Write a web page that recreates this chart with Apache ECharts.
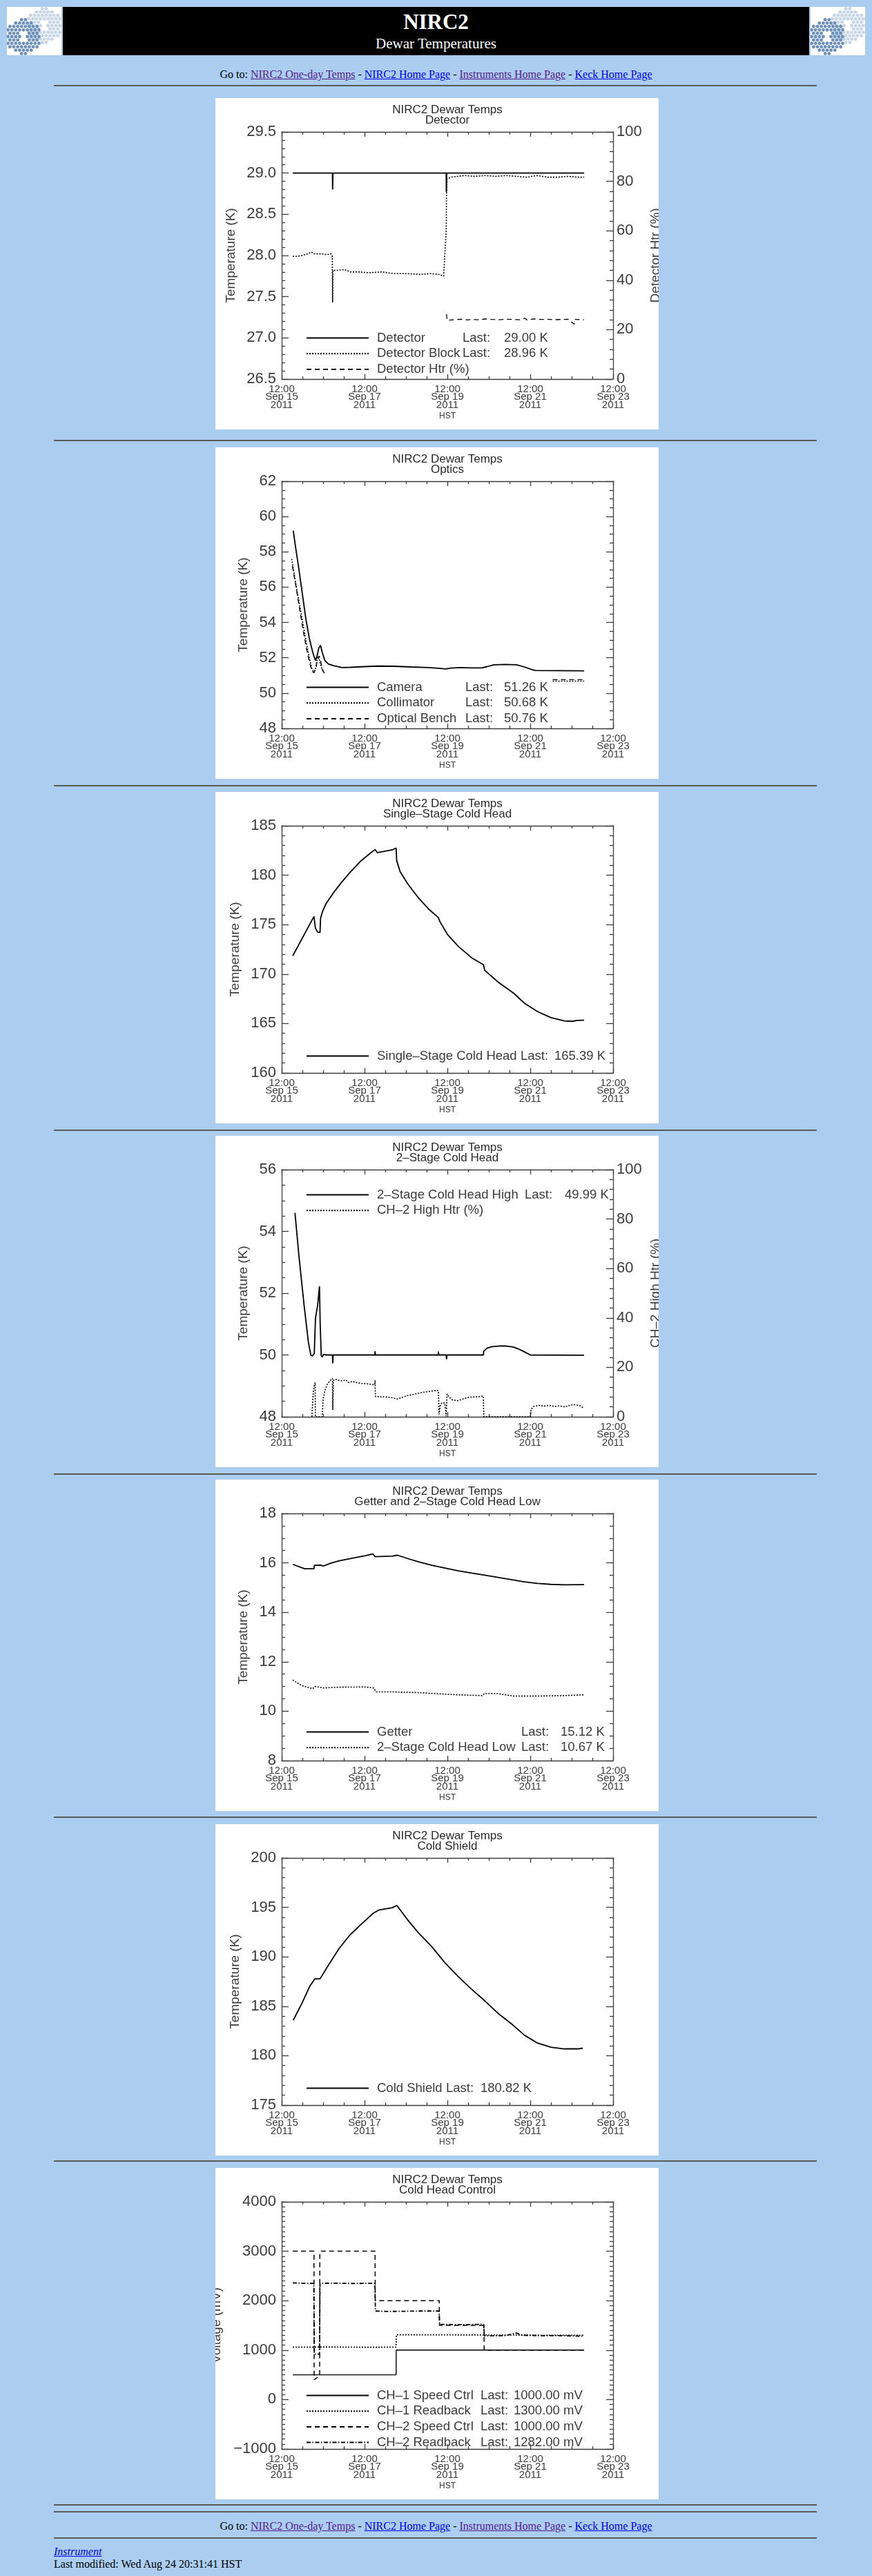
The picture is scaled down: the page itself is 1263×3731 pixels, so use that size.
<!DOCTYPE html>
<html>
<head>
<meta charset="utf-8">
<title>NIRC2 Dewar Temperatures</title>
<script src="https://cdn.jsdelivr.net/npm/echarts@6.0.0/dist/echarts.min.js"></script>
<style>
  body { margin: 0; background: #abcdef; font-family: "Liberation Serif", "Times New Roman", serif; }
  #page { position: relative; width: 1263px; height: 3731px; overflow: hidden; }
  .abs { position: absolute; }
  .hr { position: absolute; left: 78px; width: 1105px; height: 0; border-top: 2px solid #5a5a5a; }
  .logo { position: absolute; top: 10px; width: 79px; height: 70px; background: #fff; }
  .band { position: absolute; top: 10px; left: 91px; width: 1081px; height: 70px; background: #000; color: #fff; text-align: center; }
  .goto { position: absolute; left: 0; width: 1263px; text-align: center; font-size: 16px; line-height: 18px; color: #000; }
  a { text-decoration: underline; }
  a.v { color: #551a8b; }
  a.n { color: #0000ee; }
  .chart { position: absolute; left: 312px; width: 642px; height: 480px; background: #fff; }
</style>
</head>
<body>
<div id="page">
  <div class="logo" style="left:10px"><svg class="hex" width="79" height="70"></svg></div>
  <div class="band">
    <div style="position:absolute;left:0;width:1081px;top:4px;font-size:31px;font-weight:bold;line-height:36px">NIRC2</div>
    <div style="position:absolute;left:0;width:1081px;top:40px;font-size:21px;line-height:26px">Dewar Temperatures</div>
  </div>
  <div class="logo" style="left:1174px"><svg class="hex" width="79" height="70"></svg></div>

  <div class="goto" style="top:99px">Go to: <a class="v" href="#">NIRC2 One-day Temps</a> - <a class="n" href="#">NIRC2 Home Page</a> - <a class="v" href="#">Instruments Home Page</a> - <a class="n" href="#">Keck Home Page</a></div>
  <div class="hr" style="top:123px"></div>

  <div class="chart" id="c1" style="top:142px"></div>
  <div class="hr" style="top:637px"></div>
  <div class="chart" id="c2" style="top:648px"></div>
  <div class="hr" style="top:1137px"></div>
  <div class="chart" id="c3" style="top:1147px"></div>
  <div class="hr" style="top:1636px"></div>
  <div class="chart" id="c4" style="top:1645px"></div>
  <div class="hr" style="top:2134px"></div>
  <div class="chart" id="c5" style="top:2143px"></div>
  <div class="hr" style="top:2631px"></div>
  <div class="chart" id="c6" style="top:2642px"></div>
  <div class="hr" style="top:3129px"></div>
  <div class="chart" id="c7" style="top:3140px"></div>

  <div class="hr" style="top:3627px"></div>
  <div class="hr" style="top:3637px"></div>
  <div class="goto" style="top:3650px">Go to: <a class="v" href="#">NIRC2 One-day Temps</a> - <a class="n" href="#">NIRC2 Home Page</a> - <a class="v" href="#">Instruments Home Page</a> - <a class="n" href="#">Keck Home Page</a></div>
  <div class="hr" style="top:3675px"></div>
  <div class="abs" style="left:78px;top:3687px;font-size:16px;line-height:18px"><a class="n" href="#"><i>Instrument</i></a></div>
  <div class="abs" style="left:78px;top:3705px;font-size:16px;line-height:18px">Last modified: Wed Aug 24 20:31:41 HST</div>
</div>

<script>
// x values are hours after 12:00 Sep 15 2011 (HST)
const xTickLabels = ['12:00\nSep 15\n2011', '12:00\nSep 17\n2011', '12:00\nSep 19\n2011', '12:00\nSep 21\n2011', '12:00\nSep 23\n2011'];

// Detector
const detector = [[6.4, 29.00], [29.4, 29.00], [29.5, 28.80], [29.7, 29.00], [95.3, 29.00], [95.4, 28.77], [95.6, 29.00], [175.2, 29.00]];
const detectorBlock = [[6.4, 27.99], [9, 27.99], [12, 28.00], [15, 28.02], [17, 28.04], [19, 28.02], [23, 28.02], [26, 28.01], [28.6, 28.02], [29.3, 27.99],
  [29.5, 27.43], [29.7, 27.82], [33, 27.82], [36, 27.83], [40, 27.80], [45, 27.80], [50, 27.79], [58, 27.80], [65, 27.78], [72, 27.78], [80, 27.77],
  [86, 27.78], [91, 27.77], [93.8, 27.75], [94.6, 27.74], [95.3, 28.30], [95.5, 28.72], [95.8, 28.93], [98, 28.95], [102, 28.96], [106, 28.97],
  [112, 28.96], [118, 28.97], [124, 28.96], [130, 28.97], [136, 28.96], [142, 28.95], [148, 28.97], [154, 28.95], [160, 28.95], [166, 28.96], [172, 28.95], [175.2, 28.95]];
const detectorHtr = [[95.5, 26.3], [95.8, 23.8], [100, 24.0], [104, 24.2], [108, 23.9], [110, 24.1], [114, 24.0], [118, 24.3], [122, 24.1], [126, 24.0],
  [130, 24.2], [134, 24.1], [138, 24.0], [141, 24.6], [142, 23.9], [146, 24.3], [150, 24.1], [154, 24.2], [158, 24.0], [162, 24.1], [166, 24.2],
  [169.5, 22.2], [170, 24.1], [175.2, 24.0]];
const detectorLast = ['29.00 K', '28.96 K', ''];

// Optics
const camera = [[6.7, 59.2], [8, 58.3], [10, 57.0], [12, 55.6], [14, 54.2], [16, 53.1], [18, 52.3], [19.5, 51.85], [20.5, 52.1], [21.5, 52.55],
  [22.5, 52.7], [23.5, 52.3], [25, 51.85], [27, 51.65], [30, 51.55], [35, 51.45], [40, 51.46], [48, 51.5], [55, 51.53], [65, 51.52], [75, 51.48],
  [85, 51.45], [92, 51.4], [95, 51.37], [98, 51.42], [103, 51.45], [110, 51.43], [116, 51.43], [119, 51.5], [123, 51.6], [130, 51.62], [136, 51.6],
  [140, 51.5], [145, 51.33], [147, 51.28], [160, 51.27], [175.2, 51.26]];
const collimator = [[5.8, 57.6], [8, 56.3], [10, 55.2], [12, 54.1], [14, 53.0], [16, 52.0], [17.5, 51.4], [18.5, 51.2], [19.5, 51.3], [20.5, 51.9],
  [21.5, 52.0], [22.5, 51.6], [23.5, 51.3], [24.3, 51.2], [90, null], [157, 50.68], [175.2, 50.68]];
const opticalBench = [[6.2, 57.2], [8, 56.2], [10, 55.0], [12, 53.8], [14, 52.7], [16, 51.8], [17.5, 51.25], [18.7, 51.15], [19.8, 51.4], [20.8, 52.0],
  [21.8, 52.1], [22.8, 51.7], [23.8, 51.3], [24.8, 51.1], [90, null], [157, 50.76], [175.2, 50.76]];
const opticsLast = ['51.26 K', '50.68 K', '50.76 K'];

// Single-stage cold head
const singleStage = [[6.4, 171.84], [18.7, 175.83], [19.5, 174.67], [20.7, 174.25], [22.2, 174.2], [22.5, 175.6], [23.6, 176.3], [25.6, 177.1],
  [30.2, 178.27], [34.8, 179.3], [39.4, 180.24], [45.6, 181.4], [51.7, 182.28], [54.1, 182.6], [55.5, 182.28], [64, 182.56], [66.3, 182.75],
  [66.6, 181.5], [68.6, 180.36], [73.2, 179.08], [79.3, 177.69], [85.4, 176.53], [90.8, 175.7], [91.6, 175.32], [96.2, 173.97], [102.3, 172.81],
  [110, 171.65], [116.9, 170.95], [117.6, 170.38], [125.3, 169.2], [134.5, 168.05], [140.6, 167.06], [148.3, 166.2], [156, 165.6], [163.7, 165.27],
  [168.2, 165.22], [171.3, 165.32], [175.2, 165.34]];
const singleStageLast = ['165.39 K'];

// 2-stage cold head
const coldHead2High = [[7.7, 54.6], [10, 53.2], [13, 51.6], [15.5, 50.4], [16.9, 49.99], [17.9, 49.97], [18.9, 50.05], [19.2, 50.6], [19.6, 51.2],
  [20.8, 51.6], [21.9, 52.22], [22.3, 51.0], [22.9, 49.99], [23.5, 49.93], [24.2, 50.02], [26, 50.0], [29.4, 50.0], [29.6, 49.73], [29.8, 50.0],
  [54, 50.0], [54.1, 50.12], [54.3, 50.0], [90.7, 50.0], [90.8, 50.11], [91, 50.0], [95.3, 50.0], [95.5, 49.86], [95.8, 50.0], [116.9, 50.0],
  [117, 50.12], [119, 50.22], [122, 50.27], [126, 50.29], [130, 50.29], [134, 50.26], [137, 50.2], [140, 50.12], [143, 50.03], [144, 50.0], [175.2, 49.99]];
const ch2HighHtr = [[17.5, 0], [18.2, 9], [18.8, 12.5], [19.4, 13.8], [19.5, 0], [23.5, 0], [24.0, 7], [25, 10.5], [26.5, 13.2], [28, 14.6], [29.4, 15.5],
  [29.6, 2.8], [29.9, 14.6], [31, 15.2], [33, 14.8], [35, 14.5], [37, 14.9], [39, 13.8], [41, 14.3], [43, 13.9], [46, 13.5], [49, 13.4], [52, 13.1],
  [53.8, 12.9], [54.1, 14.7], [54.3, 8.2], [57, 8.1], [61, 8.0], [64, 7.7], [67, 7.2], [70, 7.9], [73, 8.6], [76, 9.0], [79, 9.5], [82, 9.9], [85, 10.2],
  [88, 10.5], [90.8, 10.6], [91.2, 1.0], [92, 5.0], [93, 5.7], [94.5, 5.5], [95.3, 0.2], [95.8, 9.2], [97, 8.0], [99, 6.8], [102, 6.5], [105, 7.2],
  [108, 7.8], [111, 8.0], [114, 8.1], [116.8, 8.4], [117.1, 0], [144, 0], [144.5, 3.0], [146, 4.2], [149, 4.6], [152, 4.3], [155, 4.6], [158, 4.2],
  [161, 4.4], [164, 4.0], [167, 4.7], [170, 4.9], [173, 4.4], [175.2, 3.4]];
const coldHead2Last = ['49.99 K', ''];

// Getter and 2-stage cold head low
const getter = [[6.4, 15.94], [13.3, 15.76], [18.7, 15.76], [19, 15.9], [22.5, 15.91], [24, 15.87], [28.7, 15.99], [33.3, 16.08], [40.9, 16.19],
  [48.6, 16.29], [52.9, 16.36], [54.1, 16.25], [64, 16.27], [67, 16.31], [73.2, 16.17], [79.3, 16.04], [87, 15.9], [94.6, 15.79], [102.3, 15.68],
  [110, 15.59], [116.9, 15.51], [125.3, 15.41], [133, 15.32], [140.6, 15.23], [148.3, 15.17], [156, 15.13], [163.7, 15.11], [175.2, 15.12]];
const coldHead2Low = [[6.4, 11.26], [11.8, 11.03], [17.9, 10.91], [19.4, 11.0], [24.1, 10.94], [33.3, 10.97], [48.6, 10.98], [53.2, 10.94],
  [54.8, 10.78], [64, 10.78], [79.3, 10.75], [94.6, 10.69], [102.3, 10.66], [116, 10.63], [117.6, 10.72], [125.3, 10.71], [134.5, 10.61],
  [148.3, 10.61], [163.7, 10.63], [175.2, 10.66]];
const getterLast = ['15.12 K', '10.67 K'];

// Cold shield
const coldShield = [[6.7, 183.59], [11.8, 185.33], [16.4, 187.07], [19.2, 187.77], [22.2, 187.77], [27.1, 189.16], [33.3, 190.85], [39.4, 192.18],
  [45.6, 193.22], [53.2, 194.43], [56.3, 194.73], [64, 194.96], [66.7, 195.2], [73.2, 193.69], [79.3, 192.41], [87, 191.02], [94.6, 189.39],
  [102.3, 188.0], [110, 186.72], [117.6, 185.56], [125.3, 184.29], [133, 183.24], [140.6, 182.08], [148.3, 181.27], [156, 180.85], [163.7, 180.69],
  [171.3, 180.69], [174.4, 180.76]];
const coldShieldLast = ['180.82 K'];

// Cold head control (mV)
const ch1SpeedCtrl = [[6.4, 500], [66.3, 500], [66.35, 1000], [175.2, 1000]];
const ch1Readback = [[6.4, 1060], [30, 1062], [50, 1058], [66.2, 1060], [66.5, 1310], [90, 1308], [120, 1305], [150, 1302], [175.2, 1300]];
const ch2SpeedCtrl = [[6.4, 3000], [18.7, 3000], [18.8, 400], [22.0, 480], [22.1, 2950], [22.4, 3000], [54.1, 3000], [54.2, 2000], [91.3, 2000],
  [91.4, 1500], [117.2, 1500], [117.3, 1000], [175.2, 1000]];
const ch2Readback = [[6.4, 2360], [12, 2352], [18.6, 2350], [18.9, 920], [21.9, 920], [22.2, 2350], [30, 2355], [40, 2348], [54, 2350], [54.3, 1790],
  [62, 1782], [70, 1785], [80, 1790], [91.2, 1790], [91.5, 1520], [104, 1515], [117.1, 1520], [117.4, 1290], [125, 1288], [130, 1295], [134, 1330],
  [136, 1345], [138, 1320], [140, 1300], [150, 1290], [160, 1292], [168, 1285], [175.2, 1282]];
const coldHeadCtrlLast = ['1000.00 mV', '1300.00 mV', '1000.00 mV', '1282.00 mV'];

const FONT = '"Liberation Sans", Arial, sans-serif';
const INK = '#3c3c3c';
const DOTTED = [2, 2];
const DASHED = [7, 5];
const DASHDOT = [6, 2.5, 1.5, 2.5];

function line(name, data, width, type, yAxisIndex) {
  return {
    name: name, type: 'line', data: data, yAxisIndex: yAxisIndex || 0,
    symbol: 'none', showSymbol: false, animation: false, connectNulls: false,
    lineStyle: { color: '#000', width: width, type: type || 'solid' },
    itemStyle: { color: '#000' }
  };
}

function buildOption(c) {
  const lineSt = { color: INK, width: 1.3 };
  const xBase = {
    type: 'value', min: 0, max: 192, interval: 48,
    axisLine: { show: true, onZero: false, lineStyle: lineSt },
    axisTick: { show: true, inside: true, length: 7, lineStyle: lineSt },
    minorTick: { show: true, splitNumber: 4, length: 4, lineStyle: lineSt },
    splitLine: { show: false }, minorSplitLine: { show: false }
  };
  const xAxis = [
    Object.assign({}, xBase, {
      position: 'bottom',
      axisLabel: { show: true, margin: 9, fontSize: 15, lineHeight: 11.5, color: INK, fontFamily: FONT,
        showMinLabel: true, showMaxLabel: true, formatter: v => xTickLabels[Math.round(v / 48)] },
      name: 'HST', nameLocation: 'middle', nameGap: 48, nameMoveOverlap: false,
      nameTextStyle: { fontSize: 12, color: INK, fontFamily: FONT }
    }),
    Object.assign({}, xBase, { position: 'top', axisLabel: { show: false } })
  ];
  const yBase = (a) => ({
    type: 'value', min: a.min, max: a.max, interval: a.interval,
    axisLine: { show: true, onZero: false, lineStyle: lineSt },
    axisTick: { show: true, inside: true, length: 10, lineStyle: lineSt },
    minorTick: { show: true, splitNumber: a.minor, length: 5, lineStyle: lineSt },
    splitLine: { show: false }, minorSplitLine: { show: false }
  });
  const left = Object.assign(yBase(c.y), {
    position: 'left',
    axisLabel: { margin: 8, fontSize: 22, color: INK, fontFamily: FONT, showMinLabel: true, showMaxLabel: true, formatter: c.y.fmt },
    name: c.y.name, nameLocation: 'middle', nameRotate: 90, nameGap: c.y.gap, nameMoveOverlap: false,
    nameTextStyle: { fontSize: 19, color: INK, fontFamily: FONT }
  });
  let right;
  if (c.y2) {
    right = Object.assign(yBase({ min: 0, max: 100, interval: 20, minor: 5 }), {
      position: 'right',
      axisLabel: { margin: 5, fontSize: 22, color: INK, fontFamily: FONT, showMinLabel: true, showMaxLabel: true },
      name: c.y2, nameLocation: 'middle', nameRotate: 90, nameGap: 27,
      nameTextStyle: { fontSize: 19, color: INK, fontFamily: FONT }
    });
  } else {
    right = Object.assign(yBase(c.y), { position: 'right', axisLabel: { show: false } });
  }
  const names = c.series.map(s => s.name);
  const rs = { fontSize: 18.5, color: INK, fontFamily: FONT };
  return {
    animation: false,
    grid: { left: 96, right: 66, top: 49, bottom: 73, containLabel: false, outerBoundsMode: 'none' },
    graphic: [{
      type: 'text', x: 336, y: 10, silent: true,
      style: { text: c.title, fontSize: 17, fontFamily: FONT, fill: '#2a2a2a', align: 'center', verticalAlign: 'top', lineHeight: 15 }
    }],
    legend: {
      left: 126, top: c.legendTop, orient: 'vertical', itemWidth: 90, itemHeight: 14, itemGap: 3.7,
      selectedMode: false, data: names,
      itemStyle: { opacity: 0 },
      textStyle: Object.assign({}, rs, {
        rich: {
          s: Object.assign({ width: 7 }, rs),
          n: Object.assign({ width: c.nameW }, rs),
          l: Object.assign({ width: c.lastW }, rs),
          v: Object.assign({}, rs)
        }
      }),
      formatter: name => {
        const i = names.indexOf(name);
        let s = '{s| }{n|' + name + '}';
        if (c.last[i]) s += '{l|Last:}{v|' + c.last[i] + '}';
        return s;
      }
    },
    xAxis: xAxis,
    yAxis: [left, right],
    series: c.series
  };
}

const fmt1 = v => v.toFixed(1);
const fmtInt = v => String(Math.round(v));
const fmtMv = v => v < 0 ? '\u2212' + (-v) : String(v);

const charts = [
  { id: 'c1', title: 'NIRC2 Dewar Temps\nDetector',
    y: { min: 26.5, max: 29.5, interval: 0.5, minor: 5, fmt: fmt1, name: 'Temperature (K)', gap: 64 }, y2: 'Detector Htr (%)',
    legendTop: 333, nameW: 124, lastW: 60, last: detectorLast,
    series: [line('Detector', detector, 1.8), line('Detector Block', detectorBlock, 1.6, DOTTED), line('Detector Htr (%)', detectorHtr, 1.3, DASHED, 1)] },
  { id: 'c2', title: 'NIRC2 Dewar Temps\nOptics',
    y: { min: 48, max: 62, interval: 2, minor: 4, fmt: fmtInt, name: 'Temperature (K)', gap: 46 },
    legendTop: 333, nameW: 128, lastW: 56, last: opticsLast,
    series: [line('Camera', camera, 1.8), line('Collimator', collimator, 1.6, DOTTED), line('Optical Bench', opticalBench, 1.4, DASHED)] },
  { id: 'c3', title: 'NIRC2 Dewar Temps\nSingle\u2013Stage Cold Head',
    y: { min: 160, max: 185, interval: 5, minor: 5, fmt: fmtInt, name: 'Temperature (K)', gap: 58 },
    legendTop: 368, nameW: 208, lastW: 49, last: singleStageLast,
    series: [line('Single\u2013Stage Cold Head', singleStage, 1.8)] },
  { id: 'c4', title: 'NIRC2 Dewar Temps\n2\u2013Stage Cold Head',
    y: { min: 48, max: 56, interval: 2, minor: 4, fmt: fmtInt, name: 'Temperature (K)', gap: 46 }, y2: 'CH\u20132 High Htr (%)',
    legendTop: 71, nameW: 214, lastW: 58, last: coldHead2Last,
    series: [line('2\u2013Stage Cold Head High', coldHead2High, 1.8), line('CH\u20132 High Htr (%)', ch2HighHtr, 1.6, DOTTED, 1)] },
  { id: 'c5', title: 'NIRC2 Dewar Temps\nGetter and 2\u2013Stage Cold Head Low',
    y: { min: 8, max: 18, interval: 2, minor: 4, fmt: fmtInt, name: 'Temperature (K)', gap: 46 },
    legendTop: 351, nameW: 209, lastW: 57, last: getterLast,
    series: [line('Getter', getter, 1.8), line('2\u2013Stage Cold Head Low', coldHead2Low, 1.6, DOTTED)] },
  { id: 'c6', title: 'NIRC2 Dewar Temps\nCold Shield',
    y: { min: 175, max: 200, interval: 5, minor: 5, fmt: fmtInt, name: 'Temperature (K)', gap: 58 },
    legendTop: 368, nameW: 100, lastW: 50, last: coldShieldLast,
    series: [line('Cold Shield', coldShield, 1.8)] },
  { id: 'c7', title: 'NIRC2 Dewar Temps\nCold Head Control',
    y: { min: -1000, max: 4000, interval: 1000, minor: 10, fmt: fmtMv, name: 'Voltage (mV)', gap: 85 },
    legendTop: 315, nameW: 150, lastW: 48, last: coldHeadCtrlLast,
    series: [line('CH\u20131 Speed Ctrl', ch1SpeedCtrl, 1.4), line('CH\u20131 Readback', ch1Readback, 1.6, DOTTED),
      line('CH\u20132 Speed Ctrl', ch2SpeedCtrl, 1.5, DASHED), line('CH\u20132 Readback', ch2Readback, 1.8, DASHDOT)] }
];

charts.forEach(c => {
  const chart = echarts.init(document.getElementById(c.id), null, { renderer: 'canvas' });
  chart.setOption(buildOption(c));
});

// Keck hexagon logos (decoration)
document.querySelectorAll('svg.hex').forEach(svg => {
  const ns = 'http://www.w3.org/2000/svg';
  const big = [
    { cx: 54, cy: 27, color: '#c6d5e6' },
    { cx: 24, cy: 43, color: '#6d90ba' }
  ];
  big.forEach(b => {
    for (let row = -5; row <= 5; row++) {
      for (let col = -4; col <= 4; col++) {
        const x = b.cx + col * 5.6 + (row % 2 ? 2.8 : 0);
        const y = b.cy + row * 4.9;
        const dx = Math.abs(x - b.cx), dy = Math.abs(y - b.cy);
        if (dx > 23 || dy > 26 - dx * 0.5) continue;
        if (dx < 5 && dy < 5) continue;
        const p = document.createElementNS(ns, 'polygon');
        const r = 2.7;
        const pts = [];
        for (let k = 0; k < 6; k++) {
          const a = Math.PI / 6 + k * Math.PI / 3;
          pts.push((x + r * Math.cos(a)).toFixed(1) + ',' + (y + r * Math.sin(a)).toFixed(1));
        }
        p.setAttribute('points', pts.join(' '));
        p.setAttribute('fill', b.color);
        svg.appendChild(p);
      }
    }
  });
});
</script>
</body>
</html>
